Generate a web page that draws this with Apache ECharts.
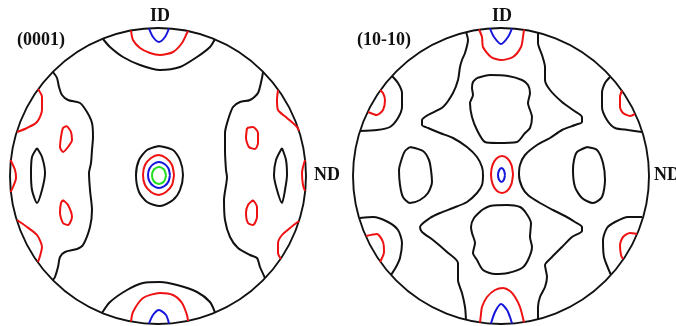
<!DOCTYPE html>
<html><head><meta charset="utf-8">
<script src="https://cdn.jsdelivr.net/npm/echarts@6/dist/echarts.min.js"></script>
<style>html,body{margin:0;padding:0;background:#fff}#c{width:676px;height:326px}</style>
</head><body><div id="c"></div>
<script>
// Pole figure contour data, projection units (pole-figure radius = 148)
// ---- (0001) figure ----
const A_topBlack = [[-55,137],[-48,129],[-35,119],[-18,111],[2,106],[22,109],[39,119],[52,129],[57,137]];
const A_topRed = [[-27,145.5],[-25,136],[-18,128],[-8,123],[2,121],[15,124],[24,133],[29,143],[30,145]];
const A_topBlue = [[-9,147.5],[-5,139],[1,134],[7,139],[11,147.5]];
const A_botBlack = [[-56,-137],[-48,-126],[-31,-114],[-15,-107],[2,-106],[19,-109],[39,-116],[52,-126],[57,-136.5]];
const A_botRed = [[-27,-145.5],[-25,-136],[-15,-122],[2,-117],[15,-119],[24,-127],[29,-139],[30,-145]];
const A_botBlue = [[-9,-147.5],[-5,-139],[1,-134],[8,-139],[11,-147.5]];
const A_cenBlack = [[1,30],[15,26],[22,16],[25,1],[22,-14],[15,-24],[2,-30],[-11,-26],[-19,-16],[-22,1],[-19,16],[-11,26],[1,30]];
const A_cenRed = [[16,1],[14,11],[8,18],[0.5,21],[-7,18],[-13,11],[-15,1],[-13,-9],[-7,-16],[0.5,-19],[8,-16],[14,-9],[16,1]];
const A_cenBlue = [[12,1],[10.5,7.5],[6.5,12],[1,14],[-4.5,12],[-8.5,7.5],[-10,1],[-8.5,-5.5],[-4.5,-10],[1,-12],[6.5,-10],[10.5,-5.5],[12,1]];
const A_cenGreen = [[8,0.5],[6,6.5],[1,9],[-4,6.5],[-6,0.5],[-4,-5.5],[1,-8],[6,-5.5],[8,0.5]];
const A_leftBlack = [[-105,104],[-101,98],[-99,89],[-96,81],[-90,76],[-78,73],[-71,64],[-66,53],[-65,39],[-66,26],[-67,13],[-69,3],[-68,-14],[-66,-34],[-68,-51],[-75,-69],[-81,-73],[-93,-76],[-98,-81],[-100,-91],[-103,-101],[-105,-104]];
const A_leftRedUp = [[-120,87],[-116,79],[-116,66],[-121,54],[-131,48],[-141,44]];
const A_leftRedDn = [[-141,-44],[-131,-51],[-121,-59],[-116,-71],[-118,-80],[-120,-86]];
const A_leftRedMid = [[-147.5,16],[-143,6],[-142,-2],[-145,-11],[-147.5,-16]];
const A_leftSpindle = [[-121,28],[-116,19],[-113,3],[-116,-14],[-121,-27],[-126,-14],[-127,3],[-126,19],[-121,28]];
const A_leftSpotUp = [[-91,50],[-87,44],[-86,36],[-90,29],[-95,24],[-98,29],[-97,39],[-95,48],[-91,50]];
const A_leftSpotDn = [[-95,-24],[-90,-29],[-86,-41],[-90,-49],[-95,-47],[-98,-37],[-97,-27],[-95,-24]];
const A_rightBlack = [[105,104],[104,98],[100,83],[92,76],[82,74],[75,69],[70,56],[67,43],[67,26],[68,6],[69,-1],[66,-24],[67,-44],[72,-61],[80,-72],[92,-79],[99,-82],[102,-91],[107,-102]];
const A_rightRedUp = [[120,86],[119,76],[120,66],[129,58],[139,49],[141,45]];
const A_rightRedDn = [[141,-45],[132,-52],[124,-59],[120,-67],[120,-77],[123,-83]];
const A_rightRedMid = [[147,16],[145,9],[144,3],[145,-9],[147,-15]];
const A_rightSpindle = [[124,28],[128,16],[129,1],[127,-14],[124,-27],[119,-14],[116,1],[118,16],[124,28]];
const A_rightSpotUp = [[89,48],[95,49],[100,43],[100,33],[97,27],[91,29],[88,38],[89,48]];
const A_rightSpotDn = [[95,-24],[99,-31],[99,-41],[95,-49],[90,-47],[88,-37],[90,-29],[95,-24]];
// ---- (10-10) figure ----
const B_topRed = [[-22,146.5],[-19,139],[-18,129],[-10,119],[0,116],[12,119],[20,129],[22,139],[23,146.5]];
const B_topBlue = [[-11,147.5],[-7,139],[0,132],[7,139],[11,147.5]];
const B_botRed = [[-21,-146.5],[-20,-138],[-19,-131],[-14,-121],[-6,-114],[2,-112],[9,-115],[14,-121],[19,-131],[23,-146.5]];
const B_botBlue = [[-10,-147.5],[-6,-136],[0,-128],[6,-134],[9,-141],[11,-147.5]];
const B_cenRed = [[12,1.5],[10.5,10.8],[6.5,17.5],[1,20],[-4.5,17.5],[-8.5,10.8],[-10,1.5],[-8.5,-7.8],[-4.5,-14.5],[1,-17],[6.5,-14.5],[10.5,-7.8],[12,1.5]];
const B_cenBlue = [[4,1],[3,5.5],[0.5,8],[-2,5.5],[-3,1],[-2,-3.5],[0.5,-6],[3,-3.5],[4,1]];
const B_leftX = [[-35,144],[-33,136],[-36,123],[-39,116],[-41,109],[-43,96],[-48,83],[-58,69],[-73,61],[-79,56],[-79,51],[-73,48],[-61,43],[-48,38],[-34,29],[-24,19],[-19,9],[-18,1],[-19,-9],[-24,-17],[-34,-26],[-48,-32],[-61,-37],[-71,-42],[-81,-51],[-79,-56],[-68,-64],[-54,-76],[-43,-87],[-43,-104],[-39,-117],[-36,-131],[-35,-144]];
const B_rightX = [[37,143.5],[37,133],[41,121],[44,109],[44,96],[49,86],[61,74],[72,66],[81,59],[81,54],[74,51],[61,46],[49,38],[36,31],[24,21],[19,11],[18,1],[21,-11],[27,-19],[39,-27],[52,-34],[64,-40],[74,-46],[81,-51],[81,-55],[71,-61],[61,-71],[51,-81],[44,-89],[46,-101],[44,-111],[39,-121],[37,-131],[37,-143.5]];
const B_blobUp = [[-24,98],[-11,101],[7,100],[21,96],[27,91],[29,83],[27,73],[31,59],[29,48],[24,43],[16,34],[-4,33],[-16,34],[-24,46],[-29,59],[-31,73],[-28,81],[-29,88],[-28,94],[-24,98]];
const B_blobDn = [[-19,-34],[-11,-30],[6,-29],[19,-31],[25,-37],[30,-47],[29,-61],[31,-71],[27,-84],[21,-92],[7,-97],[-6,-98],[-18,-94],[-24,-84],[-28,-77],[-26,-67],[-29,-57],[-30,-51],[-27,-42],[-19,-34]];
const B_blobL = [[-91,29],[-78,25],[-72,16],[-70,6],[-69,-6],[-73,-17],[-81,-24],[-91,-27],[-98,-21],[-101,-9],[-102,6],[-99,18],[-96,25],[-91,29]];
const B_blobR = [[86,29],[96,26],[102,13],[104,-4],[101,-21],[92,-27],[81,-22],[74,-11],[72,6],[73,16],[76,24],[86,29]];
const B_ulBlack = [[-109,100],[-103,93],[-99,83],[-99,69],[-103,58],[-111,49],[-124,46],[-141,45]];
const B_ulRed = [[-121,86],[-118,83],[-116,76],[-118,66],[-124,61],[-133,64]];
const B_llBlack = [[-141,-42],[-128,-41],[-113,-46],[-103,-54],[-99,-67],[-101,-82],[-105,-91],[-110,-99]];
const B_llRed = [[-135,-60],[-124,-58],[-118,-66],[-117,-76],[-121,-86]];
const B_urBlack = [[109,99],[104,93],[101,83],[101,69],[106,56],[114,48],[127,46],[141,44]];
const B_urRed = [[121,85.5],[119,79],[119,69],[122,63],[129,60],[134,62]];
const B_lrBlack = [[141,-41],[127,-41],[114,-46],[106,-52],[102,-64],[103,-81],[110,-99]];
const B_lrRed = [[136,-58],[129,-57],[122,-61],[119,-69],[120,-79],[122,-83]];

const figureLabels = ['(0001)', '(10-10)'];
const axisLabelsTop = ['ID', 'ID'];
const axisLabelsRight = ['ND', 'ND'];

const COLORS = { k: '#111111', r: '#ee1111', b: '#1414dd', g: '#22dd22' };
// [figure index, colour key, points]
const contours = [
  [0,'k',A_topBlack],[0,'r',A_topRed],[0,'b',A_topBlue],
  [0,'k',A_botBlack],[0,'r',A_botRed],[0,'b',A_botBlue],
  [0,'k',A_cenBlack],[0,'r',A_cenRed],[0,'b',A_cenBlue],[0,'g',A_cenGreen],
  [0,'k',A_leftBlack],[0,'r',A_leftRedUp],[0,'r',A_leftRedDn],[0,'r',A_leftRedMid],
  [0,'k',A_leftSpindle],[0,'r',A_leftSpotUp],[0,'r',A_leftSpotDn],
  [0,'k',A_rightBlack],[0,'r',A_rightRedUp],[0,'r',A_rightRedDn],[0,'r',A_rightRedMid],
  [0,'k',A_rightSpindle],[0,'r',A_rightSpotUp],[0,'r',A_rightSpotDn],
  [1,'r',B_topRed],[1,'b',B_topBlue],[1,'r',B_botRed],[1,'b',B_botBlue],
  [1,'r',B_cenRed],[1,'b',B_cenBlue],
  [1,'k',B_leftX],[1,'k',B_rightX],[1,'k',B_blobUp],[1,'k',B_blobDn],[1,'k',B_blobL],[1,'k',B_blobR],
  [1,'k',B_ulBlack],[1,'r',B_ulRed],[1,'k',B_llBlack],[1,'r',B_llRed],
  [1,'k',B_urBlack],[1,'r',B_urRed],[1,'k',B_lrBlack],[1,'r',B_lrRed]
];

const centers = [[158,176],[501,176]];
const R = 148;
const labelFont = { fontFamily: 'Liberation Serif', fontWeight: 'bold', fontSize: 18, lineHeight: 18, color: '#111' };

const chart = echarts.init(document.getElementById('c'), null, { renderer: 'canvas' });
const option = {
  animation: false,
  backgroundColor: '#fff',
  title: [
    { text: figureLabels[0], left: 17, top: 31, padding: 0, textStyle: labelFont },
    { text: figureLabels[1], left: 357, top: 31, padding: 0, textStyle: labelFont },
    { text: axisLabelsTop[0], left: 150, top: 7, padding: 0, textStyle: labelFont },
    { text: axisLabelsTop[1], left: 492, top: 7, padding: 0, textStyle: labelFont },
    { text: axisLabelsRight[0], left: 314, top: 166, padding: 0, textStyle: labelFont },
    { text: axisLabelsRight[1], left: 654, top: 166, padding: 0, textStyle: labelFont }
  ],
  grid: centers.map(c => ({ left: c[0] - 150, top: c[1] - 150, width: 300, height: 300 })),
  xAxis: centers.map((c, i) => ({ gridIndex: i, type: 'value', min: -150, max: 150, show: false })),
  yAxis: centers.map((c, i) => ({ gridIndex: i, type: 'value', min: -150, max: 150, show: false })),
  polar: centers.map(c => ({ center: c, radius: R })),
  angleAxis: centers.map((c, i) => ({
    polarIndex: i, type: 'value', min: 0, max: 360,
    axisLine: { show: true, lineStyle: { color: '#111', width: 1.9 } },
    axisTick: { show: false }, axisLabel: { show: false }, splitLine: { show: false }
  })),
  radiusAxis: centers.map((c, i) => ({ polarIndex: i, type: 'value', min: 0, max: 1, show: false })),
  series: contours.map(([g, col, pts]) => ({
    type: 'line', xAxisIndex: g, yAxisIndex: g, data: pts,
    showSymbol: false, symbol: 'none', smooth: 0.25, silent: true,
    lineStyle: { color: COLORS[col], width: 2 }
  }))
};
chart.setOption(option);
</script></body></html>
